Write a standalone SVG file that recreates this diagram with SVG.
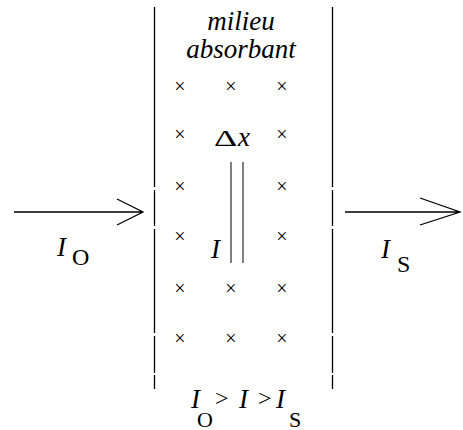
<svg xmlns="http://www.w3.org/2000/svg" width="463" height="430" viewBox="0 0 463 430" font-family="Liberation Serif">
<rect width="463" height="430" fill="#fff"/>
<g id="walls" stroke="#000" stroke-width="1.3" fill="none">
<path d="M154.5 7V187M154.5 190V226M154.5 229V333M154.5 336V373M154.5 375V389"/>
<path d="M332.5 7V187M332.5 190V226M332.5 229V333M332.5 336V373M332.5 375V389"/>
</g>
<g id="title" font-style="italic" font-size="27" text-anchor="middle">
<text x="241" y="30">milieu</text>
<text x="241" y="58">absorbant</text>
</g>
<g id="crosses" font-size="20" text-anchor="middle">
<text x="180" y="93">&#215;</text>
<text x="231" y="93">&#215;</text>
<text x="282" y="93">&#215;</text>
<text x="180" y="141">&#215;</text>
<text x="282" y="141">&#215;</text>
<text x="180" y="193">&#215;</text>
<text x="282" y="193">&#215;</text>
<text x="180" y="243">&#215;</text>
<text x="282" y="243">&#215;</text>
<text x="180" y="295">&#215;</text>
<text x="231" y="295">&#215;</text>
<text x="282" y="295">&#215;</text>
<text x="180" y="345">&#215;</text>
<text x="231" y="345">&#215;</text>
<text x="282" y="345">&#215;</text>
</g>
<g id="slab">
<text transform="translate(214,146) scale(1.5,1)" font-size="24">&#916;</text>
<text x="238" y="146" font-style="italic" font-size="27">x</text>
<path d="M231 162V263M243 162V263" stroke="#000" stroke-width="1" fill="none"/>
<text x="211" y="258" font-style="italic" font-size="27">I</text>
</g>
<g id="connectors" stroke="#000" stroke-width="1.3" fill="none">
<path d="M14 212H143M117 199L143 212L117 225"/>
<path d="M345 212H460M420 198L460 212L420 225"/>
</g>
<g id="label-in">
<text x="57" y="256" font-style="italic" font-size="27">I</text>
<text x="72" y="265" font-size="24">O</text>
</g>
<g id="label-out">
<text x="381" y="258" font-style="italic" font-size="27">I</text>
<text x="397" y="272" font-size="24">S</text>
</g>
<g id="relation">
<text x="191" y="408" font-style="italic" font-size="27">I</text>
<text x="197" y="427" font-size="22">O</text>
<text x="215" y="406" font-size="24">&gt;</text>
<text x="239" y="408" font-style="italic" font-size="27">I</text>
<text x="258" y="406" font-size="24">&gt;</text>
<text x="276" y="408" font-style="italic" font-size="27">I</text>
<text x="289" y="427" font-size="22">S</text>
</g>
</svg>
